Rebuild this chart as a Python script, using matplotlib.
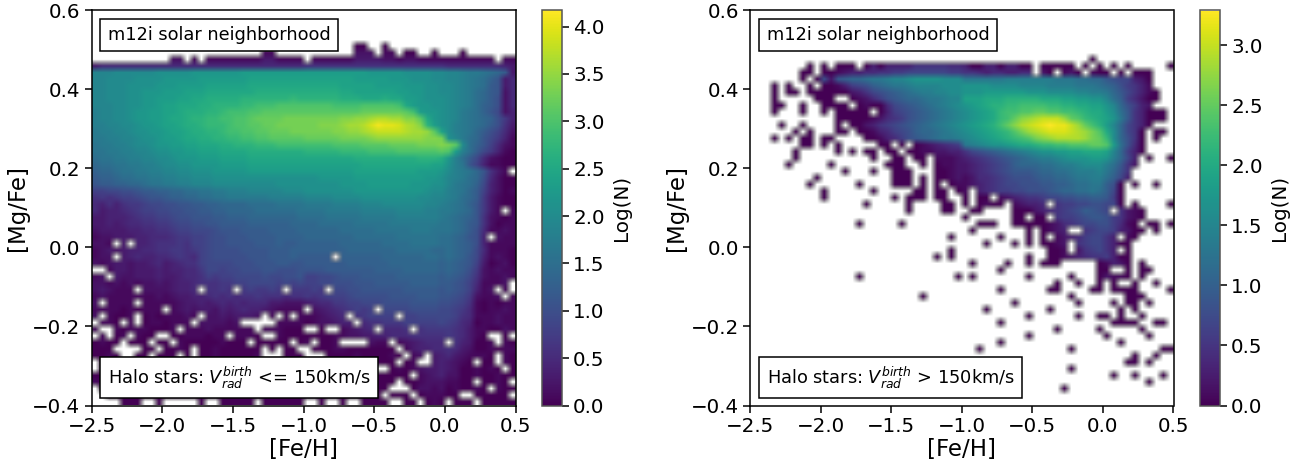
import numpy as np
import matplotlib
matplotlib.use('Agg')
import matplotlib.pyplot as plt

# Each row is a line of 60 bins, top of the panel first; each character is Log(N) in tenths.
CODE = "0123456789abcdefghijklmnopqrstuvwxyzABCDEFG"

left_rows = [
"", "", "", "", "",
".......... .......... .......... .......00. .0........ ..........",
".......... .......... ....11.... .......222 .11.00..0. ..0.......",
".......... .22.1.1111 1111331111 .111111333 3221221111 1111111.11",
"3555555555 5555555555 5555555555 6666666666 6666666666 5555555543",
"jjjkkkkkkl llllmmmmmm mnnnnnnnnn nnnnnnnnnm mmmmllllkk jjihhgfec3",
"jjkkkkllll mmmmmnnnnn nnoooooooo ooooooonnn nnmmmlllkk jjihgfdb35",
"jjkkkllllm mmnnnnoooo oopppppppp pppppooooo nnnnmmmllk kjihgfcb35",
"jjkkkllmmm nnnooopppp pppqqqqqqq qqqqqppooo ooonnmmllk kjihfecb25",
"jjkkkllmmn nnooppqqqq qrrrrrrrsr rrrrrqqqpp pqppnnmlll kjihfeca25",
"jjjkkllmmn oopppqqrrr rsstttuuuu uuuuttttuu uuutpnmmll kjihfdca25",
"ijjkklmmnn oopqqqrrst ttuuvvvvvv vvvvvvvvww wwwwvtnmml kjhgfdb924",
"ijjkklmmnn oppqrrsstt uuvwwwwxxx xxxxxyyzzA BBAAyyvpml kjhgfeda74",
"iijjkklmmn oopqqrssst uuvvwwxxxx xxyyyzAABD FEEDBAyrnl kihgfeca63",
"hiijjkllmm noopqqrrst tuuvvwwwxx xxxxyyzzAB CCCCBAAzvo kihgeca852",
"hhiijjkllm nnoppqqrrs sttuuvvvvv wwwwwxxxxy zzzzzzzyyx ljhfeb9741",
"ghhiijkklm mnnoopppqq rrrssstttt ttttuuuuvv vvwwwwxxxy xvkfdb8521",
"gghhiijjkl lmmnnooopp ppqqqqqqqq rrrrrsssst tttuuuuuuv unifc97410",
"fgghhiijjk klmmmnnnoo oopppppppp pppppppqqq qqqqqqrrrq mifc952100",
"effgghhiij kkllmmmmnn nnoooooooo oooooooopp ppppppppoo ligb841100",
"deefgghhii jjkklllmmm mmnnnnnnnn nnnnnnnooo oooooonnnm kihgeb631.",
"cddeffgghh iijjkkklll llllllllll llmmmmmnnn nnnnnnnmml jihfea5200",
"bccddeefgg hhiijjjkkk kkkkkkllll lllllmmmmn nnnnnmmmll jhgfd94200",
"8899aabccd deeffgghhi iijjjjjkkk lllllllmmm mmmmmmmlkk ihgec84201",
"6767889abb cddeeffggh hhhhhiiiii jjjjkkkkll llllllkkjj ihfec73100",
"5464677899 aabbccddee eeffffgggg hhhhiiiijj jkkkkkkjji hgfdb73100",
"5344567889 9aabbccdde eeeffffffg ggghhhhhii iiijjjjiih hgfeb731.1",
"3344456778 89aabbbccd ddeeeeeeef fffggggghh hhhiiiiiih gfedb62101",
"3343455667 7899aabbcc ccddddddee eefffffggg gghhhhhhhg gfecb62011",
"2333344556 6788999abb bccccdddde eeeeefffff ggggghhhgg gfeca51121",
"1223334455 5677889aab bbccccdddd eeeeeeefff fffggggggf fedba4.211",
"221.3.4456 6676889aab bbbcccdccd dddddeeeee effffggggf fedca41111",
"1232344556 6776789aaa abbbbcccdd ddddddeeee eeefffffee fedc951110",
"122.345445 5676589aaa aabbbcccdc cccc.ddddd deeeeeeffe fedb941210",
"2123323345 3456689999 aaabbbccbb ccccccdddd ddeeeeeeed edcb830120",
"..13323334 3445579989 9aaabbaaab bbbccccccc ddddeeeeed edca721211",
"12.3223334 3345568788 9999a99aab 8899abbbcc cccddddddc dcb9621121",
"2212121223 2344566677 8899998989 8899aaabbb cccccddddc cba851112.",
"232111.222 23445.6676 .787787.77 787.99aabb bbbbcccccb cba8412.1.",
"1211111112 1233445656 5667666566 7678889aaa aabbbbcccb ba972112.1",
"2.1111.111 1123343454 5455533222 3455778899 9aaaabbbba a986101011",
"1111010111 .123233243 4544321111 .234567878 .9999aaaa9 9875101121",
"2.1001.010 11121.2232 3332.1.1.1 112345.678 888.889999 9865111211",
".110.1.011 0111.22221 2.....1111 0122344.56 6777888889 8754011211",
"1..1011100 01.1112111 111.111000 ..0..12345 .5556.6777 7653110021",
".1.01.100. .00111011. 1110..1000 0000112233 4455566666 765310..0.",
"0100.000.0 0.10000010 00.00000.0 1.001....2 11.1234555 .643001.10",
"000....00. 0010.00100 0000.0.00. .000110000 000.134455 6532001011",
"0010..00.0 00.0.00100 0001...000 ...0000100 0010.12.34 5321110.10",
".000000000 0000000000 0000000000 0000000000 000.01..34 3210.00.10",
".000000000 0000000000 0000000000 0000000000 ..01012334 32001010.0",
"0000000000 0000000000 0000000000 0000000000 00000.1234 2200100100",
"1000000000 0000000000 0000000000 0000000000 000.001222 1100.0010.",
".000000000 0000000000 0000000000 0000000000 00...02212 010010.100",
"..00000000 0000000000 0000000000 0000000000 0.000.0111 00..00000.",
"....000..0 .....0..00 000.000000 ..0..0..00 00..00.010 .000.00000",
]

right_rows = [
"", "", "", "", "", "", "",
".......... .......... .......... .......... ........0. ..........",
"........0. 0.000.0303 3335555544 3003303300 .00000.0.0 .0.0.....0",
".......00. 0012334455 6677777766 5543443344 .20.120.10 0.0.000...",
".......0.0 829abbcdde ffghhhhggg ddddddeeee eeedddccbb 9877320...",
"...0.0..0. 0013678abc ddeffffggg hhhhggggff ffeeeedddc ba86531...",
"...0.00.00 0000235789 abcdeeffgg hhhiiiiiih hhggggffee db97531 0.",
"...0.....0 00..012468 9abbcddeff jjjkkkllll lkkkjjiihh fca64200..",
"...00..0.. 0000.01004 789abcdefg hijkllmmnn nnmmllkkjj hfb8632...",
"...0...0.. 0.00000.03 6789abcdef ghijkmnnoo ppoonnmlkk igc953000.",
".......... ..00000124 5689abcdef ghijkmnprs tuuuspomlk jhd953000.",
"....0..0.. ..0.002356 789abcdefg hijklnprtu vwxwwuspnl ifb7530...",
"......0.0. ..00.00134 678abbcdef ghijklmoqs tuvvvutsqo kgb750.00.",
"...0.0.00. 00....0013 4689abcdde fghijklmno qrsttttsqp mgb850.0..",
".......00. 0.0.....00 .0.0123456 defghhijkk lmmnnooopp oic840....",
"......0... ..0.0.00.0 0.00112233 5789abcdef ghhiijjkkk jfb630....",
"......0... .......0.. 00.00.1112 3456789abc deefghhhii heb73.0..0",
".....0.... .0.......0 00..0.0112 2345678abb bccdeefggg ec952.....",
".......... ...0...0.. 000...0012 2345678999 abbccdeeef db85......",
".........0 .......... 000.0.0012 1244567888 9aabbcddee ca73......",
"........0. .....0.... 000.0.0.01 1234567788 899aabccdd a80.0..0..",
".......... 0......0.. ...00.00.0 1.34566778 889abbccdc a70.......",
".......... 0......... 0.000.00.. 0.00.12345 56778899aa 960.......",
".......... ......0... ..0....00. 0.0100.123 34.5667788 770.0....0",
".......... .......... ..0....00. .00....000 2345678a98 7.5210....",
".......... .......... .......... 0......00. 00.5667899 865210....",
".......... .....0.... .0........ ..000..000 0012456778 86410.00.0",
".......... .......... .......... .0.......0 .0123..567 763200.0..",
".......... .......... ........0. .....0...0 .0.1234677 53.10.....",
".......... .......... .......... ...0...0.0 .0012.5677 5300......",
".......... .......... ........0. .......... ..001.2567 53.0......",
".......... .......... ......0.0. .........0 ..00123455 6300......",
".......... .......... .......... .0....0..0 .000.....0 1320.0....",
".......... .......... .......... .....0.... .........0 0..0.00...",
".......... .....0.... .........0 .0.......0 .....0...0 2110.0....",
".......... .......... .......... .......... ...0..0..0 .0..0..0..",
".......... .......... .......... .....0.... ..00....00 .0000....0",
".......... .......... ....0..... .......... .....0.... ...000....",
".......... .......... .......... .......0.. ......0... .0.00.0...",
".......... .......... .......... ...0...... ..0....... ..0.0.....",
".......... .......... .......... .........0 ......0..0 0.0..0....",
".......... .......... .......... .....0.... .......... .0000..00.",
".......... .......... .......... .......... ...0.....0 .....0....",
".......... .......... .......... .........0 .......... 0.....0...",
".......... .......... .......... .....0.... .......... ..0.......",
".......... .......... .......... ..0....... .....0.... ........00",
".......... .......... .......... .......... .......... ....0..0..",
".......... .......... .......... .......... .......... ...00.0...",
".......... .......... .......... .......... .....0.... ..........",
".......... .......... .......... .......... .......... .0..0...0.",
".......... .......... .......... .......... .......... ......0...",
".......... .......... .......... .......... ....0..... ..........",
"", "",
]

x_ticks = [-2.5, -2.0, -1.5, -1.0, -0.5, 0.0, 0.5]
y_ticks = [-0.4, -0.2, 0.0, 0.2, 0.4, 0.6]
left_cbar_ticks = [0.0, 0.5, 1.0, 1.5, 2.0, 2.5, 3.0, 3.5, 4.0]
right_cbar_ticks = [0.0, 0.5, 1.0, 1.5, 2.0, 2.5, 3.0]
x_label = "[Fe/H]"
y_label = "[Mg/Fe]"
cbar_label = "Log(N)"
title_text = "m12i solar neighborhood"
left_note = r"Halo stars: $V_{rad}^{birth}$ <= 150km/s"
right_note = r"Halo stars: $V_{rad}^{birth}$ > 150km/s"


def decode(rows):
    grid = np.full((60, 60), np.nan)
    for r, line in enumerate(rows[:60]):
        line = line.replace(' ', '').ljust(60, '.')
        for c, ch in enumerate(line[:60]):
            if ch in CODE:
                grid[r, c] = CODE.index(ch) / 10.0
    return np.ma.masked_invalid(grid)


W, H = 1306, 469
fig = plt.figure(figsize=(W / 100, H / 100), dpi=100)


def box(l, r, t=10.5, b=405.5):
    return [l / W, 1 - b / H, (r - l) / W, (b - t) / H]


def panel(ax_box, cax_box, rows, vmax, cticks, note, bx):
    ax = fig.add_axes(box(*ax_box))
    im = ax.imshow(decode(rows), origin='upper', extent=[-2.5, 0.5, -0.4, 0.6],
                   aspect='auto', cmap='viridis', vmin=0, vmax=vmax,
                   interpolation='bilinear', interpolation_stage='rgba')
    ax.set_xlim(-2.5, 0.5)
    ax.set_ylim(-0.4, 0.6)
    ax.set_xticks(x_ticks)
    ax.set_yticks(y_ticks)
    ax.tick_params(labelsize=14.3, length=5, width=1.1, pad=3)
    ax.set_xlabel(x_label, fontsize=16.5, labelpad=1.5)
    ax.set_ylabel(y_label, fontsize=16.5, labelpad=2)
    for s in ax.spines.values():
        s.set_linewidth(1.1)
    bb = dict(boxstyle='square,pad=0.42', fc='white', ec='black', lw=1.1)
    ax.text(bx, 0.938, title_text, transform=ax.transAxes, fontsize=12.75,
            va='center', ha='left', bbox=bb)
    ax.text(bx, 0.071, note, transform=ax.transAxes, fontsize=12.75,
            va='center', ha='left', bbox=bb)
    cax = fig.add_axes(box(*cax_box))
    cb = fig.colorbar(im, cax=cax)
    cb.set_ticks(cticks)
    cb.ax.tick_params(labelsize=14.3, length=5, width=1.1, pad=3)
    cb.set_label(cbar_label, fontsize=14.3, labelpad=5)
    cb.outline.set_linewidth(1.1)
    cb.outline.set_edgecolor('#555555')


panel((91.5, 515.5), (542, 562), left_rows, 4.17, left_cbar_ticks, left_note, 0.038)
panel((750, 1173.5), (1200, 1220), right_rows, 3.29, right_cbar_ticks, right_note, 0.0395)

fig.savefig('out.png', dpi=100)
